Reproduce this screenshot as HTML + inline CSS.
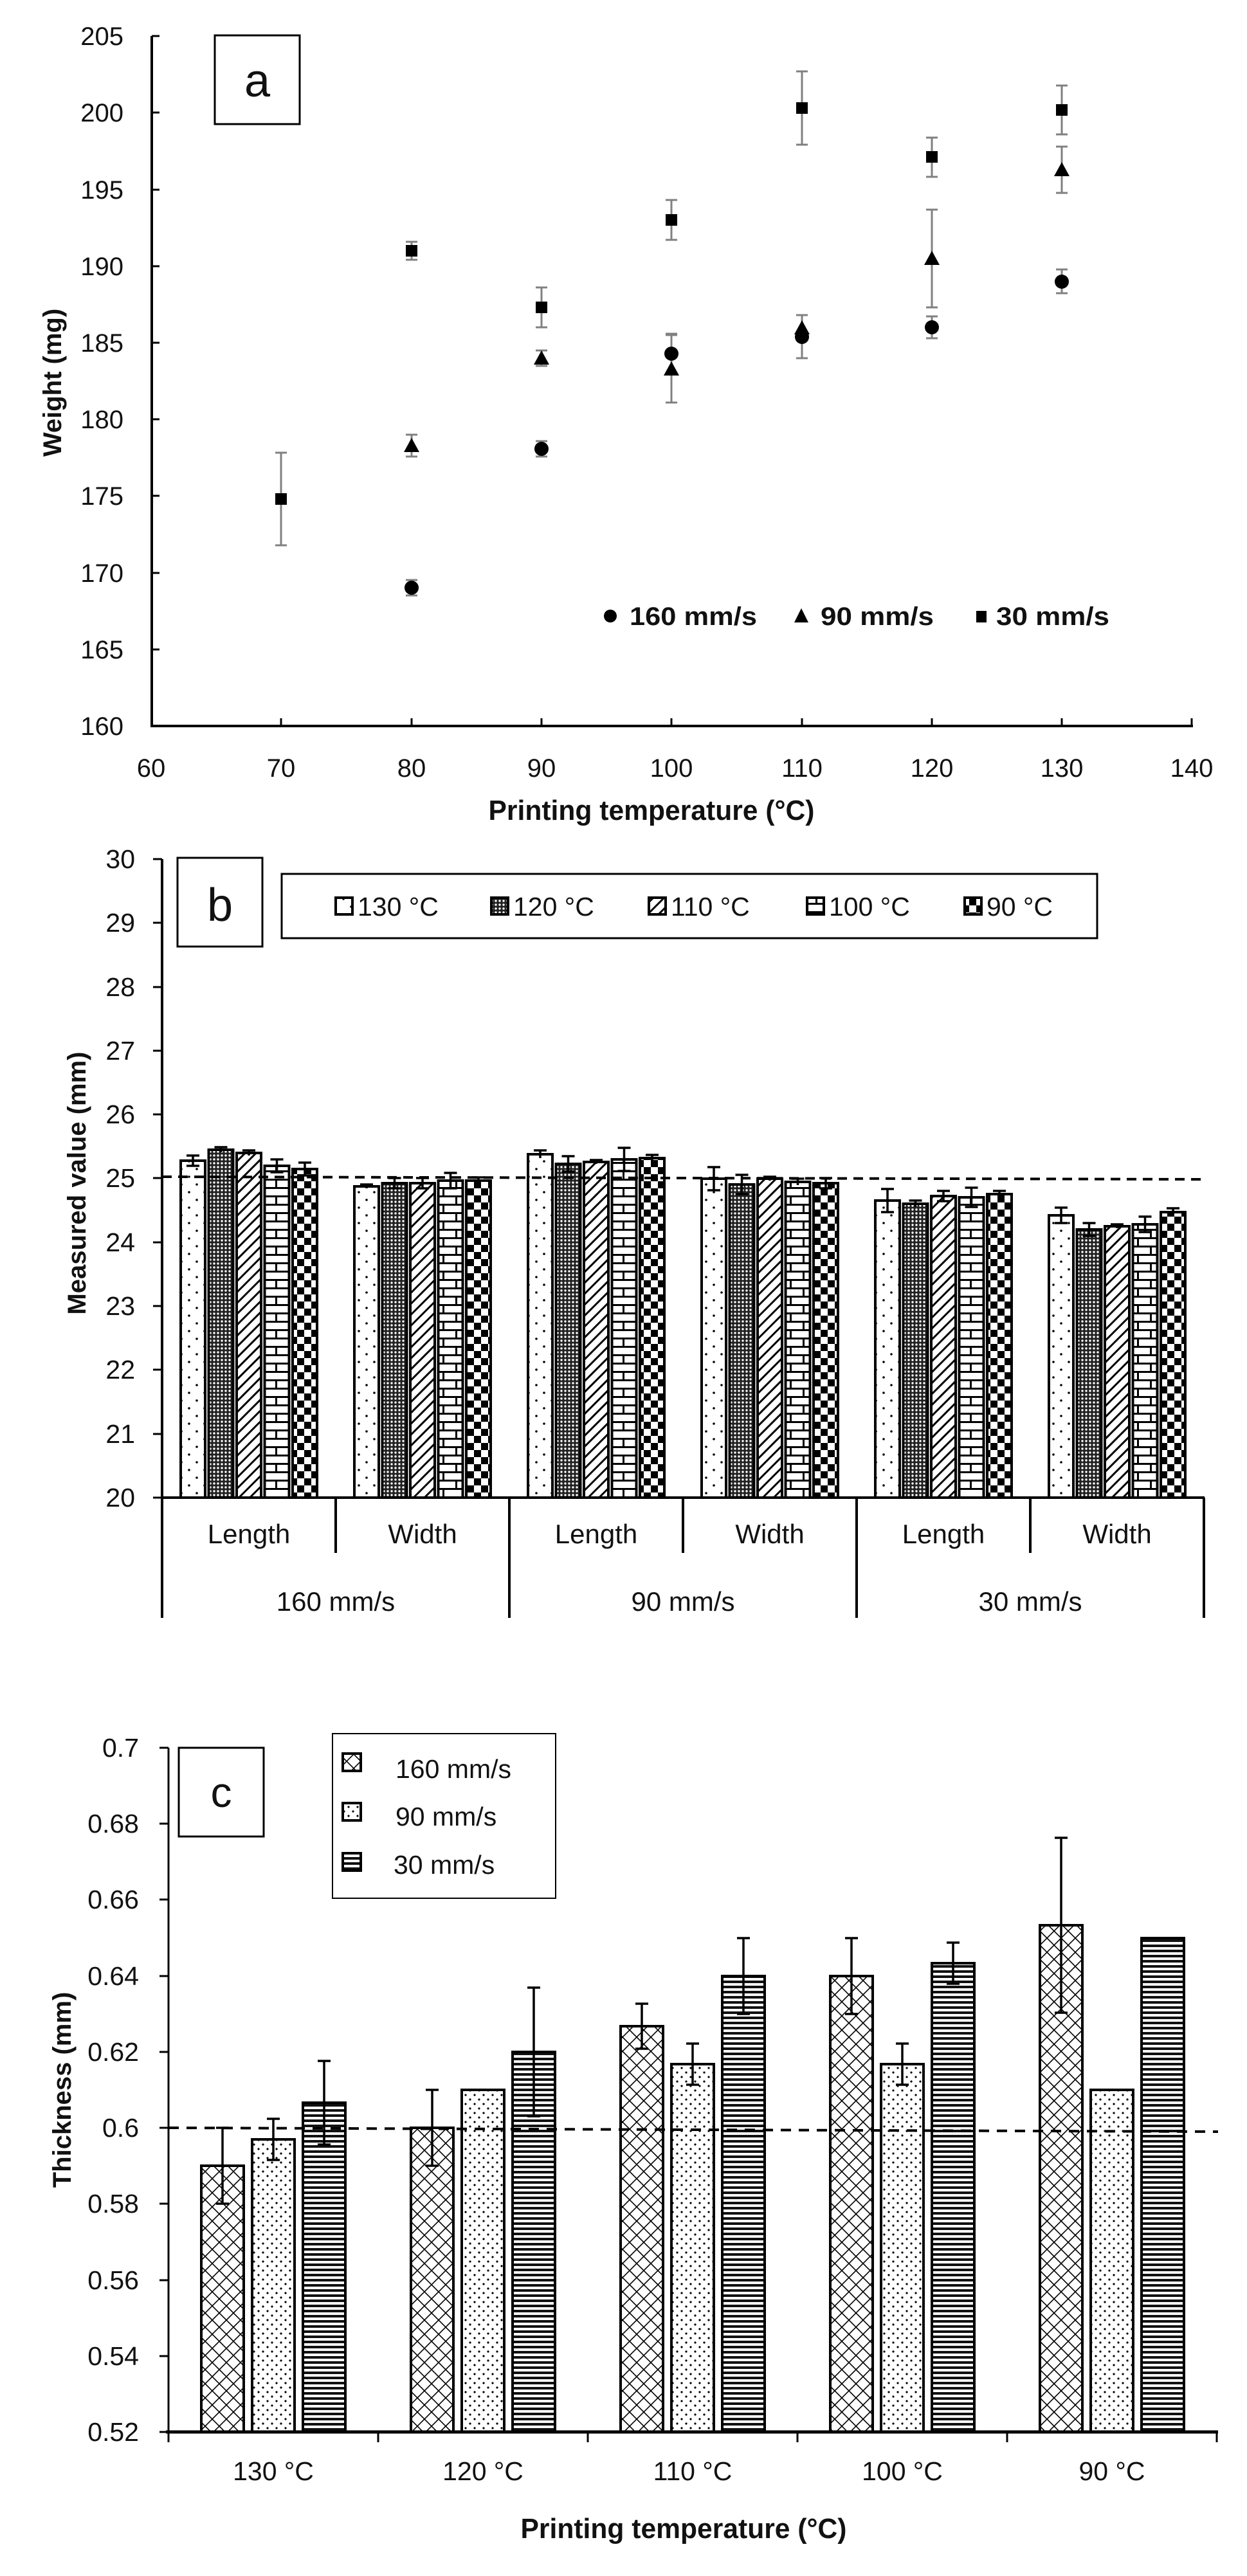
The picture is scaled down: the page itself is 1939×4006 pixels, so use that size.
<!DOCTYPE html>
<html><head><meta charset="utf-8"><style>
html,body{margin:0;padding:0;background:#fff}
svg{display:block}
text{font-family:"Liberation Sans Narrow","Liberation Sans",sans-serif;fill:#111}
.t{font-size:40px}
.tb{font-family:"Liberation Sans",sans-serif;font-weight:bold;font-size:40px}
.tn{font-family:"Liberation Sans Narrow","Liberation Sans",sans-serif;font-weight:bold;font-size:44px}
</style></head><body>
<svg width="1939" height="4006" viewBox="0 0 1939 4006" xmlns="http://www.w3.org/2000/svg">
<defs>
<pattern id="p130" width="24" height="24" patternUnits="userSpaceOnUse"><rect width="24" height="24" fill="#fff"/><circle cx="6" cy="6" r="1.8" fill="#000"/><circle cx="18" cy="18" r="1.8" fill="#000"/></pattern>
<pattern id="p120" width="6" height="6" patternUnits="userSpaceOnUse"><rect width="6" height="6" fill="#222"/><circle cx="3" cy="3" r="1.7" fill="#fff"/></pattern>
<pattern id="p110" width="12" height="12" patternUnits="userSpaceOnUse" patternTransform="rotate(45)"><rect width="12" height="12" fill="#fff"/><rect x="0" y="0" width="3" height="12" fill="#000"/></pattern>
<pattern id="p100" width="40" height="26" patternUnits="userSpaceOnUse"><rect width="40" height="26" fill="#fff"/><rect y="0" width="40" height="3" fill="#000"/><rect y="13" width="40" height="3" fill="#000"/><rect x="8" y="0" width="3" height="13" fill="#000"/><rect x="28" y="13" width="3" height="13" fill="#000"/></pattern>
<pattern id="p90" width="22" height="22" patternUnits="userSpaceOnUse"><rect width="22" height="22" fill="#fff"/><rect width="11" height="11" fill="#000"/><rect x="11" y="11" width="11" height="11" fill="#000"/></pattern>
<pattern id="pc1" width="22" height="22" patternUnits="userSpaceOnUse"><rect width="22" height="22" fill="#fff"/><path d="M0 0L22 22M22 0L0 22" stroke="#000" stroke-width="1.6"/></pattern>
<pattern id="pc2" width="14" height="14" patternUnits="userSpaceOnUse"><rect width="14" height="14" fill="#fff"/><circle cx="3" cy="3" r="1.6" fill="#000"/><circle cx="10" cy="10" r="1.6" fill="#000"/></pattern>
<pattern id="pc3" width="10" height="8" patternUnits="userSpaceOnUse"><rect width="10" height="8" fill="#fff"/><rect width="10" height="4" fill="#111"/></pattern>
</defs>

<!-- ===== Chart a ===== -->
<g stroke="#000" stroke-width="4" fill="none">
<line x1="236" y1="56" x2="236" y2="1131"/>
<line x1="234" y1="1129" x2="1855" y2="1129"/>
</g>
<g stroke="#000" stroke-width="3">
<line x1="236" y1="1010" x2="248" y2="1010"/><line x1="236" y1="891" x2="248" y2="891"/><line x1="236" y1="771" x2="248" y2="771"/><line x1="236" y1="652" x2="248" y2="652"/><line x1="236" y1="533" x2="248" y2="533"/><line x1="236" y1="414" x2="248" y2="414"/><line x1="236" y1="295" x2="248" y2="295"/><line x1="236" y1="175" x2="248" y2="175"/><line x1="236" y1="56" x2="248" y2="56"/>
<line x1="437" y1="1129" x2="437" y2="1117"/><line x1="640" y1="1129" x2="640" y2="1117"/><line x1="842" y1="1129" x2="842" y2="1117"/><line x1="1044" y1="1129" x2="1044" y2="1117"/><line x1="1247" y1="1129" x2="1247" y2="1117"/><line x1="1449" y1="1129" x2="1449" y2="1117"/><line x1="1651" y1="1129" x2="1651" y2="1117"/><line x1="1853" y1="1129" x2="1853" y2="1117"/>
</g>
<g class="t" text-anchor="end">
<text x="192" y="1143">160</text><text x="192" y="1024">165</text><text x="192" y="905">170</text><text x="192" y="785">175</text><text x="192" y="666">180</text><text x="192" y="547">185</text><text x="192" y="428">190</text><text x="192" y="309">195</text><text x="192" y="189">200</text><text x="192" y="70">205</text>
</g>
<g class="t" text-anchor="middle">
<text x="235" y="1208">60</text><text x="437" y="1208">70</text><text x="640" y="1208">80</text><text x="842" y="1208">90</text><text x="1044" y="1208">100</text><text x="1247" y="1208">110</text><text x="1449" y="1208">120</text><text x="1651" y="1208">130</text><text x="1853" y="1208">140</text>
</g>
<text class="tb" x="95" y="595" text-anchor="middle" transform="rotate(-90 95 595)">Weight (mg)</text>
<text class="tn" x="1013" y="1275" text-anchor="middle" textLength="507" lengthAdjust="spacingAndGlyphs">Printing temperature (°C)</text>
<rect x="334" y="55" width="132" height="138" fill="#fff" stroke="#000" stroke-width="3"/>
<text x="400" y="150" text-anchor="middle" style="font-size:72px">a</text>
<g stroke="#808080" stroke-width="3">
<path d="M640 902V926M631 902H649M631 926H649"/>
<path d="M842 686V710M833 686H851M833 710H851"/>
<path d="M1044 519V581M1035 519H1053M1035 581H1053"/>
<path d="M1247 490V557M1238 490H1256M1238 557H1256"/>
<path d="M1449 492V526M1440 492H1458M1440 526H1458"/>
<path d="M1651 419V456M1642 419H1660M1642 456H1660"/>
<path d="M640 676V710M631 676H649M631 710H649"/>
<path d="M842 545V569M833 545H851M833 569H851"/>
<path d="M1044 521V626M1035 521H1053M1035 626H1053"/>
<path d="M1449 326V478M1440 326H1458M1440 478H1458"/>
<path d="M1651 228V300M1642 228H1660M1642 300H1660"/>
<path d="M437 704V848M428 704H446M428 848H446"/>
<path d="M640 376V404M631 376H649M631 404H649"/>
<path d="M842 447V509M833 447H851M833 509H851"/>
<path d="M1044 311V373M1035 311H1053M1035 373H1053"/>
<path d="M1247 111V225M1238 111H1256M1238 225H1256"/>
<path d="M1449 214V275M1440 214H1458M1440 275H1458"/>
<path d="M1651 133V209M1642 133H1660M1642 209H1660"/>
</g>
<g fill="#000">
<circle cx="640" cy="914" r="11"/><circle cx="842" cy="698" r="11"/><circle cx="1044" cy="550" r="11"/><circle cx="1247" cy="524" r="11"/><circle cx="1449" cy="509" r="11"/><circle cx="1651" cy="438" r="11"/>
<path d="M640 681L652 703H628Z"/><path d="M842 545L854 567H830Z"/><path d="M1044 562L1056 584H1032Z"/><path d="M1247 498L1259 520H1235Z"/><path d="M1449 390L1461 412H1437Z"/><path d="M1651 252L1663 274H1639Z"/>
<rect x="428" y="767" width="18" height="18"/><rect x="631" y="381" width="18" height="18"/><rect x="833" y="469" width="18" height="18"/><rect x="1035" y="333" width="18" height="18"/><rect x="1238" y="159" width="18" height="18"/><rect x="1440" y="235" width="18" height="18"/><rect x="1642" y="162" width="18" height="18"/>
<circle cx="949" cy="958" r="10"/><path d="M1246 946L1257 968H1235Z"/><rect x="1518" y="950" width="16" height="18"/>
</g>
<g class="tn" style="font-size:40px">
<text x="979" y="972" textLength="198" lengthAdjust="spacingAndGlyphs">160 mm/s</text><text x="1276" y="972" textLength="176" lengthAdjust="spacingAndGlyphs">90 mm/s</text><text x="1549" y="972" textLength="176" lengthAdjust="spacingAndGlyphs">30 mm/s</text>
</g>

<!-- ===== Chart b ===== -->
<g stroke="#000" stroke-width="1.5">
<rect x="281" y="1805" width="38" height="524" fill="url(#p130)"/><rect x="324.5" y="1788" width="38" height="541" fill="url(#p120)"/><rect x="368" y="1793" width="38" height="536" fill="url(#p110)"/><rect x="411.5" y="1813" width="38" height="516" fill="url(#p100)"/><rect x="455" y="1818" width="38" height="511" fill="url(#p90)"/>
<rect x="551" y="1845" width="38" height="484" fill="url(#p130)"/><rect x="594.5" y="1840" width="38" height="489" fill="url(#p120)"/><rect x="638" y="1840" width="38" height="489" fill="url(#p110)"/><rect x="681.5" y="1836" width="38" height="493" fill="url(#p100)"/><rect x="725" y="1836" width="38" height="493" fill="url(#p90)"/>
<rect x="821" y="1795" width="38" height="534" fill="url(#p130)"/><rect x="864.5" y="1810" width="38" height="519" fill="url(#p120)"/><rect x="908" y="1807" width="38" height="522" fill="url(#p110)"/><rect x="951.5" y="1803" width="38" height="526" fill="url(#p100)"/><rect x="995" y="1801" width="38" height="528" fill="url(#p90)"/>
<rect x="1091" y="1833" width="38" height="496" fill="url(#p130)"/><rect x="1134.5" y="1842" width="38" height="487" fill="url(#p120)"/><rect x="1178" y="1833" width="38" height="496" fill="url(#p110)"/><rect x="1221.5" y="1838" width="38" height="491" fill="url(#p100)"/><rect x="1265" y="1840" width="38" height="489" fill="url(#p90)"/>
<rect x="1361" y="1867" width="38" height="462" fill="url(#p130)"/><rect x="1404.5" y="1872" width="38" height="457" fill="url(#p120)"/><rect x="1448" y="1860" width="38" height="469" fill="url(#p110)"/><rect x="1491.5" y="1862" width="38" height="467" fill="url(#p100)"/><rect x="1535" y="1857" width="38" height="472" fill="url(#p90)"/>
<rect x="1631" y="1890" width="38" height="439" fill="url(#p130)"/><rect x="1674.5" y="1912" width="38" height="417" fill="url(#p120)"/><rect x="1718" y="1907" width="38" height="422" fill="url(#p110)"/><rect x="1761.5" y="1904" width="38" height="425" fill="url(#p100)"/><rect x="1805" y="1885" width="38" height="444" fill="url(#p90)"/>
</g>
<g stroke="#000" stroke-width="4" fill="none">
<rect x="281" y="1805" width="38" height="524"/><rect x="324.5" y="1788" width="38" height="541"/><rect x="368" y="1793" width="38" height="536"/><rect x="411.5" y="1813" width="38" height="516"/><rect x="455" y="1818" width="38" height="511"/>
<rect x="551" y="1845" width="38" height="484"/><rect x="594.5" y="1840" width="38" height="489"/><rect x="638" y="1840" width="38" height="489"/><rect x="681.5" y="1836" width="38" height="493"/><rect x="725" y="1836" width="38" height="493"/>
<rect x="821" y="1795" width="38" height="534"/><rect x="864.5" y="1810" width="38" height="519"/><rect x="908" y="1807" width="38" height="522"/><rect x="951.5" y="1803" width="38" height="526"/><rect x="995" y="1801" width="38" height="528"/>
<rect x="1091" y="1833" width="38" height="496"/><rect x="1134.5" y="1842" width="38" height="487"/><rect x="1178" y="1833" width="38" height="496"/><rect x="1221.5" y="1838" width="38" height="491"/><rect x="1265" y="1840" width="38" height="489"/>
<rect x="1361" y="1867" width="38" height="462"/><rect x="1404.5" y="1872" width="38" height="457"/><rect x="1448" y="1860" width="38" height="469"/><rect x="1491.5" y="1862" width="38" height="467"/><rect x="1535" y="1857" width="38" height="472"/>
<rect x="1631" y="1890" width="38" height="439"/><rect x="1674.5" y="1912" width="38" height="417"/><rect x="1718" y="1907" width="38" height="422"/><rect x="1761.5" y="1904" width="38" height="425"/><rect x="1805" y="1885" width="38" height="444"/>
</g>
<g stroke="#000" stroke-width="3.5">
<path d="M300 1797V1813M290 1797H310M290 1813H310"/><path d="M343.5 1784V1792M333.5 1784H353.5"/><path d="M387 1789V1797M377 1789H397"/><path d="M430.5 1803V1823M420.5 1803H440.5M420.5 1823H440.5"/><path d="M474 1808V1828M464 1808H484M464 1828H484"/>
<path d="M570 1842V1848M560 1842H580"/><path d="M613.5 1832V1848M603.5 1832H623.5M603.5 1848H623.5"/><path d="M657 1832V1848M647 1832H667M647 1848H667"/><path d="M700.5 1824V1848M690.5 1824H710.5M690.5 1848H710.5"/><path d="M744 1831V1841M734 1831H754"/>
<path d="M840 1789V1801M830 1789H850"/><path d="M883.5 1798V1822M873.5 1798H893.5M873.5 1822H893.5"/><path d="M927 1804V1810M917 1804H937"/><path d="M970.5 1785V1821M960.5 1785H980.5M960.5 1821H980.5"/><path d="M1014 1796V1806M1004 1796H1024"/>
<path d="M1110 1815V1851M1100 1815H1120M1100 1851H1120"/><path d="M1153.5 1827V1857M1143.5 1827H1163.5M1143.5 1857H1163.5"/><path d="M1197 1830V1836M1187 1830H1207"/><path d="M1240.5 1833V1843M1230.5 1833H1250.5"/><path d="M1284 1832V1848M1274 1832H1294M1274 1848H1294"/>
<path d="M1380 1849V1885M1370 1849H1390M1370 1885H1390"/><path d="M1423.5 1867V1877M1413.5 1867H1433.5"/><path d="M1467 1852V1868M1457 1852H1477M1457 1868H1477"/><path d="M1510.5 1847V1877M1500.5 1847H1520.5M1500.5 1877H1520.5"/><path d="M1554 1852V1862M1544 1852H1564"/>
<path d="M1650 1878V1902M1640 1878H1660M1640 1902H1660"/><path d="M1693.5 1902V1922M1683.5 1902H1703.5M1683.5 1922H1703.5"/><path d="M1737 1904V1910M1727 1904H1747"/><path d="M1780.5 1892V1916M1770.5 1892H1790.5M1770.5 1916H1790.5"/><path d="M1824 1879V1891M1814 1879H1834"/>
</g>
<line x1="252" y1="1830" x2="1873" y2="1834" stroke="#000" stroke-width="4" stroke-dasharray="15 10"/>
<g stroke="#000" stroke-width="4" fill="none">
<line x1="252" y1="1336" x2="252" y2="2516"/>
<line x1="250" y1="2329" x2="1873" y2="2329"/>
<line x1="522" y1="2329" x2="522" y2="2415"/><line x1="1062" y1="2329" x2="1062" y2="2415"/><line x1="1602" y1="2329" x2="1602" y2="2415"/>
<line x1="792" y1="2329" x2="792" y2="2516"/><line x1="1332" y1="2329" x2="1332" y2="2516"/><line x1="1872" y1="2329" x2="1872" y2="2516"/>
</g>
<g stroke="#000" stroke-width="3">
<line x1="238" y1="1336" x2="252" y2="1336"/><line x1="238" y1="1435" x2="252" y2="1435"/><line x1="238" y1="1535" x2="252" y2="1535"/><line x1="238" y1="1634" x2="252" y2="1634"/><line x1="238" y1="1733" x2="252" y2="1733"/><line x1="238" y1="1832" x2="252" y2="1832"/><line x1="238" y1="1932" x2="252" y2="1932"/><line x1="238" y1="2031" x2="252" y2="2031"/><line x1="238" y1="2130" x2="252" y2="2130"/><line x1="238" y1="2230" x2="252" y2="2230"/><line x1="238" y1="2329" x2="252" y2="2329"/>
</g>
<g class="t" text-anchor="end" style="font-size:41px">
<text x="210" y="1350">30</text><text x="210" y="1449">29</text><text x="210" y="1549">28</text><text x="210" y="1648">27</text><text x="210" y="1747">26</text><text x="210" y="1846">25</text><text x="210" y="1946">24</text><text x="210" y="2045">23</text><text x="210" y="2144">22</text><text x="210" y="2244">21</text><text x="210" y="2343">20</text>
</g>
<text class="tb" x="133" y="1840" text-anchor="middle" transform="rotate(-90 133 1840)">Measured value (mm)</text>
<g class="t" text-anchor="middle" style="font-size:42px">
<text x="387" y="2400">Length</text><text x="657" y="2400">Width</text><text x="927" y="2400">Length</text><text x="1197" y="2400">Width</text><text x="1467" y="2400">Length</text><text x="1737" y="2400">Width</text>
<text x="522" y="2505">160 mm/s</text><text x="1062" y="2505">90 mm/s</text><text x="1602" y="2505">30 mm/s</text>
</g>
<rect x="276" y="1334" width="132" height="138" fill="#fff" stroke="#000" stroke-width="3"/>
<text x="342" y="1432" text-anchor="middle" style="font-size:72px">b</text>
<rect x="438" y="1359" width="1268" height="100" fill="#fff" stroke="#000" stroke-width="3"/>
<g stroke="#000" stroke-width="4">
<rect x="522" y="1396" width="26" height="26" fill="url(#p130)"/><rect x="764" y="1396" width="26" height="26" fill="url(#p120)"/><rect x="1009" y="1396" width="26" height="26" fill="url(#p110)"/><rect x="1255" y="1396" width="26" height="26" fill="url(#p100)"/><rect x="1500" y="1396" width="26" height="26" fill="url(#p90)"/>
</g>
<g class="t" style="font-size:41px">
<text x="556" y="1424">130 °C</text><text x="798" y="1424">120 °C</text><text x="1043" y="1424">110 °C</text><text x="1289" y="1424">100 °C</text><text x="1534" y="1424">90 °C</text>
</g>

<!-- ===== Chart c ===== -->
<g stroke="#000" stroke-width="4">
<rect x="313" y="3368" width="66" height="414" fill="url(#pc1)"/><rect x="392" y="3327" width="66" height="455" fill="url(#pc2)"/><rect x="471" y="3270" width="66" height="512" fill="url(#pc3)"/>
<rect x="639" y="3309" width="66" height="473" fill="url(#pc1)"/><rect x="718" y="3250" width="66" height="532" fill="url(#pc2)"/><rect x="797" y="3191" width="66" height="591" fill="url(#pc3)"/>
<rect x="965" y="3151" width="66" height="631" fill="url(#pc1)"/><rect x="1044" y="3210" width="66" height="572" fill="url(#pc2)"/><rect x="1123" y="3073" width="66" height="709" fill="url(#pc3)"/>
<rect x="1291" y="3073" width="66" height="709" fill="url(#pc1)"/><rect x="1370" y="3210" width="66" height="572" fill="url(#pc2)"/><rect x="1449" y="3053" width="66" height="729" fill="url(#pc3)"/>
<rect x="1617" y="2994" width="66" height="788" fill="url(#pc1)"/><rect x="1696" y="3250" width="66" height="532" fill="url(#pc2)"/><rect x="1775" y="3014" width="66" height="768" fill="url(#pc3)"/>
</g>
<g stroke="#000" stroke-width="3.5">
<path d="M346 3309V3427M336 3309H356M336 3427H356"/><path d="M425 3295V3359M415 3295H435M415 3359H435"/><path d="M504 3205V3335M494 3205H514M494 3335H514"/>
<path d="M672 3250V3368M662 3250H682M662 3368H682"/><path d="M830 3091V3291M820 3091H840M820 3291H840"/>
<path d="M998 3116V3186M988 3116H1008M988 3186H1008"/><path d="M1077 3178V3242M1067 3178H1087M1067 3242H1087"/><path d="M1156 3014V3132M1146 3014H1166M1146 3132H1166"/>
<path d="M1324 3014V3132M1314 3014H1334M1314 3132H1334"/><path d="M1403 3178V3242M1393 3178H1413M1393 3242H1413"/><path d="M1482 3021V3085M1472 3021H1492M1472 3085H1492"/>
<path d="M1650 2858V3130M1640 2858H1660M1640 3130H1660"/>
</g>
<line x1="262" y1="3309" x2="1894" y2="3315" stroke="#000" stroke-width="4" stroke-dasharray="16 12"/>
<g stroke="#000" stroke-width="3" fill="none">
<line x1="262" y1="2718" x2="262" y2="3784"/>
<line x1="258" y1="3782" x2="1894" y2="3782" stroke-width="5"/>
<line x1="262" y1="3782" x2="262" y2="3798"/><line x1="588" y1="3782" x2="588" y2="3798"/><line x1="914" y1="3782" x2="914" y2="3798"/><line x1="1240" y1="3782" x2="1240" y2="3798"/><line x1="1566" y1="3782" x2="1566" y2="3798"/><line x1="1892" y1="3782" x2="1892" y2="3798"/>
<line x1="248" y1="2718" x2="262" y2="2718"/><line x1="248" y1="2836" x2="262" y2="2836"/><line x1="248" y1="2954" x2="262" y2="2954"/><line x1="248" y1="3073" x2="262" y2="3073"/><line x1="248" y1="3191" x2="262" y2="3191"/><line x1="248" y1="3309" x2="262" y2="3309"/><line x1="248" y1="3427" x2="262" y2="3427"/><line x1="248" y1="3546" x2="262" y2="3546"/><line x1="248" y1="3664" x2="262" y2="3664"/><line x1="248" y1="3782" x2="262" y2="3782"/>
</g>
<g class="t" text-anchor="end" style="font-size:41px">
<text x="216" y="2732">0.7</text><text x="216" y="2850">0.68</text><text x="216" y="2968">0.66</text><text x="216" y="3087">0.64</text><text x="216" y="3205">0.62</text><text x="216" y="3323">0.6</text><text x="216" y="3441">0.58</text><text x="216" y="3560">0.56</text><text x="216" y="3678">0.54</text><text x="216" y="3796">0.52</text>
</g>
<g class="t" text-anchor="middle" style="font-size:41px">
<text x="425" y="3857">130 °C</text><text x="751" y="3857">120 °C</text><text x="1077" y="3857">110 °C</text><text x="1403" y="3857">100 °C</text><text x="1729" y="3857">90 °C</text>
</g>
<text class="tb" x="110" y="3250" text-anchor="middle" transform="rotate(-90 110 3250)">Thickness (mm)</text>
<text class="tn" x="1063" y="3947" text-anchor="middle" textLength="507" lengthAdjust="spacingAndGlyphs">Printing temperature (°C)</text>
<rect x="278" y="2718" width="132" height="138" fill="#fff" stroke="#000" stroke-width="3"/>
<text x="344" y="2810" text-anchor="middle" style="font-size:66px">c</text>
<rect x="517" y="2696" width="347" height="256" fill="#fff" stroke="#000" stroke-width="2"/>
<g stroke="#000" stroke-width="4">
<rect x="533" y="2727" width="28" height="27" fill="url(#pc1)"/><rect x="533" y="2804" width="28" height="27" fill="url(#pc2)"/><rect x="533" y="2882" width="28" height="27" fill="url(#pc3)"/>
</g>
<g class="t" style="font-size:41px">
<text x="615" y="2765">160 mm/s</text><text x="615" y="2839">90 mm/s</text><text x="612" y="2914">30 mm/s</text>
</g>
</svg>
</body></html>
